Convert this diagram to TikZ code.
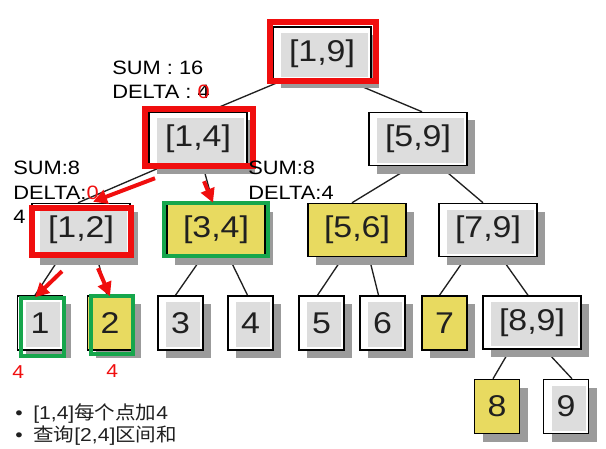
\documentclass[tikz,border=0pt]{standalone}
\usepackage{fontspec}
\setmainfont[FakeStretch=1.13]{Liberation Sans}
\newfontfamily\cjk[FakeStretch=1.1]{Noto Sans CJK SC}
\usepackage{xcolor}
\usetikzlibrary{arrows.meta,shadows,backgrounds}

\definecolor{boxgray}{RGB}{221,221,221}
\definecolor{shadegray}{RGB}{155,155,155}
\definecolor{hiyellow}{RGB}{232,218,96}
\definecolor{hired}{RGB}{240,14,14}
\definecolor{higreen}{RGB}{22,166,76}
\definecolor{inkgray}{RGB}{32,32,32}

\begin{document}
\begin{tikzpicture}[x=0.75pt,y=-0.75pt,
  cell/.style={draw=black,line width=1.1pt,fill=white,inner sep=0pt,
    minimum width=73.5pt,minimum height=39.75pt,text=inkgray,
    font=\fontsize{22.5}{24}\selectfont,
    drop shadow={shadow xshift=6pt,shadow yshift=-6pt,fill=shadegray,opacity=1}},
  seg/.style={cell,path picture={\fill[boxgray]
    ([shift={(8,6)}]path picture bounding box.north west) rectangle
    ([shift={(-3,-3)}]path picture bounding box.south east);}},
  hit/.style={cell,fill=hiyellow},
  narrow/.style={minimum width=33.75pt,minimum height=40.5pt},
  link/.style={draw=inkgray,line width=1pt},
  hot/.style={draw=hired,line width=3pt,-{Triangle[length=10.5pt,width=10.5pt]}},
  redbox/.style={draw=hired,line width=4.2pt},
  greenbox/.style={draw=higreen,line width=3pt},
  lab/.style={font=\fontsize{14.5}{16}\selectfont,anchor=base west,inner sep=0pt},
  redval/.style={font=\fontsize{14}{16}\selectfont,anchor=base west,inner sep=0pt,text=hired},
  note/.style={font=\fontsize{14}{16}\selectfont,anchor=base west,inner sep=0pt,text=inkgray}]
\useasboundingbox (0,0) rectangle (606,449);

% segment tree
\node[seg] (n19) at (322,53.5) {[1,9]};
\node[seg] (n14) at (198,139) {[1,4]};
\node[seg] (n59) at (418,139) {[5,9]};
\node[seg] (n12) at (81,230) {[1,2]};
\node[hit] (n34) at (216,230) {[3,4]};
\node[hit] (n56) at (357,230) {[5,6]};
\node[seg] (n79) at (488,230) {[7,9]};
\node[seg,narrow] (l1) at (40,323) {1};
\node[hit,narrow] (l2) at (110,323) {2};
\node[seg,narrow] (l3) at (180.5,323) {3};
\node[seg,narrow] (l4) at (250.5,323) {4};
\node[seg,narrow] (l5) at (321.5,323) {5};
\node[seg,narrow] (l6) at (382.5,323) {6};
\node[hit,narrow] (l7) at (444.5,323) {7};
\node[seg] (n89) at (532,322.5) {[8,9]};
\node[hit,narrow] (l8) at (497,406.5) {8};
\node[seg,narrow] (l9) at (566,406.5) {9};

\begin{scope}[on background layer]
\draw[link] ([shift={(-40,0)}]n19.south) -- ([shift={(10,0)}]n14.north);
\draw[link] ([shift={(26,0)}]n19.south) -- ([shift={(4,0)}]n59.north);
\draw[link] ([shift={(-35,0)}]n14.south) -- ([shift={(-3,0)}]n12.north);
\draw[link] ([shift={(5,0)}]n14.south) -- ([shift={(-3,0)}]n34.north);
\draw[link] ([shift={(-6,0)}]n59.south) -- ([shift={(-5,0)}]n56.north);
\draw[link] ([shift={(22,0)}]n59.south) -- ([shift={(-5,0)}]n79.north);
\draw[link] ([shift={(-21,0)}]n12.south) -- ([shift={(-5,0)}]l1.north);
\draw[link] ([shift={(16,0)}]n12.south) -- ([shift={(-3,0)}]l2.north);
\draw[link] ([shift={(-14,0)}]n34.south) -- ([shift={(-5,0)}]l3.north);
\draw[link] ([shift={(13,0)}]n34.south) -- ([shift={(-3,0)}]l4.north);
\draw[link] ([shift={(-14,0)}]n56.south) -- ([shift={(-4,0)}]l5.north);
\draw[link] ([shift={(12,0)}]n56.south) -- ([shift={(-4,0)}]l6.north);
\draw[link] ([shift={(-22,0)}]n79.south) -- ([shift={(-5,0)}]l7.north);
\draw[link] ([shift={(13,0)}]n79.south) -- ([shift={(-4,0)}]n89.north);
\draw[link] ([shift={(-22,0)}]n89.south) -- ([shift={(-4,0)}]l8.north);
\draw[link] ([shift={(13,0)}]n89.south) -- ([shift={(6,0)}]l9.north);
\end{scope}

% highlighted path
\draw[redbox] ([shift={(-2,-4)}]n19.north west) rectangle ([shift={(4,0)}]n19.south east);
\draw[redbox] ([shift={(-3,-2.5)}]n14.north west) rectangle ([shift={(5,0)}]n14.south east);
\draw[redbox] ([shift={(1,5)}]n12.north west) rectangle ([shift={(0,-2)}]n12.south east);
\draw[greenbox] ([shift={(-2.5,0.5)}]n34.north west) rectangle ([shift={(2.5,-1.5)}]n34.south east);
\draw[greenbox] ([shift={(4,2.5)}]l1.north west) rectangle ([shift={(1,5.5)}]l1.south east);
\draw[greenbox] ([shift={(4,0.5)}]l2.north west) rectangle ([shift={(0,3.5)}]l2.south east);

\draw[hot] ([shift={(-43,12)}]n14.south) -- ([shift={(12,-1)}]n12.north);
\draw[hot] ([shift={(6,15)}]n14.south) -- ([shift={(-3,0)}]n34.north);
\draw[hot] ([shift={(-19,14)}]n12.south) -- ([shift={(-5,2)}]l1.north);
\draw[hot] ([shift={(17,11)}]n12.south) -- ([shift={(0,1)}]l2.north);

% sums and lazy tags
\node[lab] (sum14) at (112,75) {SUM : 16};
\node[lab] (del14) at (112,99) {DELTA : \rlap{4}\textcolor{hired}{0}};
\node[lab] (sum12) at (13,175) {SUM:8};
\node[lab] (del12) at (13,199) {DELTA:\textcolor{hired}{0}};
\node[lab] (new12) at (13,223) {4};
\node[lab] (sum34) at (248,175) {SUM:8};
\node[lab] (del34) at (248,199) {DELTA:4};
\node[redval] (add1) at (12,378) {4};
\node[redval] (add2) at (106,377) {4};

\node[note] (task1) at (15,419) {•\hspace{8pt}[1,4]{\cjk 每个点加}4};
\node[note] (task2) at (15,441) {•\hspace{8pt}{\cjk 查询}[2,4]{\cjk 区间和}};
\end{tikzpicture}
\end{document}
